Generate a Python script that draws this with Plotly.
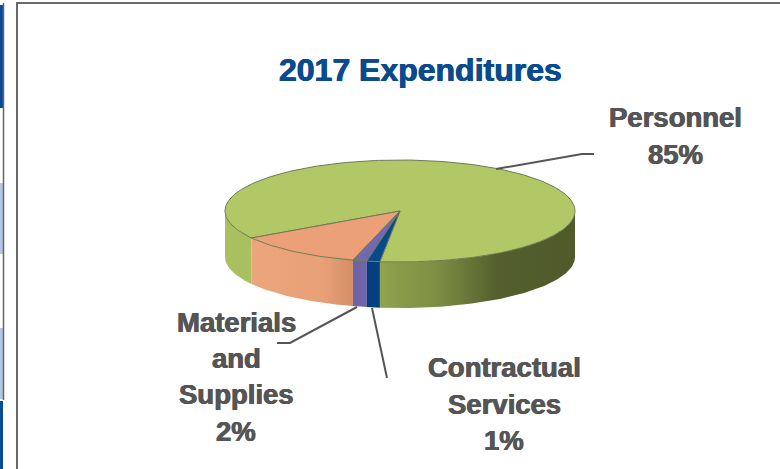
import math
import plotly.graph_objects as go

# --- data ---
slice_names = ["Personnel", "Other", "Materials and Supplies", "Contractual Services"]
slice_values = [85.7, 11.8, 1.3, 1.2]   # clockwise, starting at Personnel
title_text = "2017 Expenditures"
label_lines = [["Personnel", "85%"], ["Materials", "and", "Supplies", "2%"], ["Contractual", "Services", "1%"]]

# --- styles / layout ---
W, H = 780, 469
CX, CY, RX, RY, DEPTH = 400, 211, 175, 51, 46
END_ANGLE_FROM_BOTTOM = 6.6  # Personnel finishes here
top_colors = ["#b2c866", "#eba077", "#7468b0", "#064a8e"]
wall_styles = [
    None,
    [[0, "#eda67c"], [0.7, "#e8a077"], [1, "#d38f66"]],
    [[0, "#6f64a8"], [1, "#6f64a8"]],
    [[0, "#053f80"], [1, "#053f80"]],
]
right_green = [[0, "#8fa24d"], [0.3, "#7d8e44"], [0.6, "#545f2d"], [1, "#4f592a"]]
left_green = "#a9c060"
GREY = "#555555"
TITLE_BLUE = "#0b4a8c"
FONT = "Liberation Sans"
label_x = [675, 236, 504]
label_y = [[117, 154], [322, 358, 394, 431], [367, 404, 440]]
leaders = [
    [(496, 169), (582, 154), (594, 154)],
    [(357, 307), (290, 343), (277, 343)],
    [(372, 308), (387, 378)],
]

fig = go.Figure()


def pt(theta, z=0):
    r = math.radians(theta)  # measured from the bottom, running clockwise on screen
    return CX - RX * math.sin(r), CY + RY * math.cos(r) + z


def arc(a, b):
    n = max(2, int(abs(b - a) / 1.0) + 1)
    return [a + (b - a) * i / n for i in range(n + 1)]


def wall(a, b, color=None, gradient=None):
    ts = arc(a, b)
    top = [pt(t) for t in ts]
    bot = [pt(t, DEPTH) for t in reversed(ts)]
    pts = top + bot + [top[0]]
    kw = dict(fillcolor=color) if color else dict(fillgradient=dict(type="horizontal", colorscale=gradient))
    fig.add_trace(go.Scatter(x=[p[0] for p in pts], y=[p[1] for p in pts], mode="lines", fill="toself",
                             line=dict(width=0), hoverinfo="skip", showlegend=False, **kw))


# slice angles: Personnel runs round the back; the others follow back towards the bottom
total = sum(slice_values)
spans = [v / total * 360 for v in slice_values]
start = END_ANGLE_FROM_BOTTOM + spans[3] + spans[2] + spans[1]
bounds = [(start, 360 + END_ANGLE_FROM_BOTTOM)]
a = start
for s in spans[1:]:
    bounds.append((a - s, a))
    a -= s

# walls (front half only)
wall(start, 90, color=left_green)
wall(270, 360 + END_ANGLE_FROM_BOTTOM, gradient=right_green)
for (lo, hi), g in zip(bounds[1:], wall_styles[1:]):
    wall(lo, hi, gradient=g)

# top faces
for (lo, hi), c, name in zip(bounds, top_colors, slice_names):
    pts = [(CX, CY)] + [pt(t) for t in arc(lo, hi)] + [(CX, CY)]
    fig.add_trace(go.Scatter(x=[p[0] for p in pts], y=[p[1] for p in pts], mode="lines", fill="toself",
                             fillcolor=c, line=dict(color="#6f7a55", width=1), name=name,
                             hoverinfo="name", showlegend=False))

# leader lines
for seg in leaders:
    fig.add_trace(go.Scatter(x=[p[0] for p in seg], y=[p[1] for p in seg], mode="lines",
                             line=dict(color=GREY, width=2), hoverinfo="skip", showlegend=False))

shapes = [
    dict(type="rect", x0=17, y0=3, x1=W + 5, y1=H + 5, line=dict(color="#6a6a6a", width=2), fillcolor="rgba(0,0,0,0)"),
]
# strip of the neighbouring table on the far left
for y0, y1, c in [(5, 108, "#0b4a94"), (110, 181, "#ffffff"), (183, 254, "#b4c6e4"), (256, 326, "#ffffff"),
                  (328, 399, "#b4c6e4"), (401, 469, "#0b4a94")]:
    shapes.append(dict(type="rect", x0=0, x1=3, y0=y0, y1=y1, fillcolor=c, line=dict(width=0)))
shapes.append(dict(type="line", x0=3.5, x1=3.5, y0=3, y1=400, line=dict(color="#666666", width=1.5)))

annotations = [dict(x=420, y=70, text=title_text, showarrow=False, xref="x", yref="y",
                    font=dict(family=FONT, size=32, color=TITLE_BLUE, weight="bold",
                              shadow=f"0.5px 0 0.5px {TITLE_BLUE}, -0.5px 0 0.5px {TITLE_BLUE}"))]
for lines, lx, ys in zip(label_lines, label_x, label_y):
    for t, ly in zip(lines, ys):
        annotations.append(dict(x=lx, y=ly, text=t, showarrow=False, xref="x", yref="y",
                                font=dict(family=FONT, size=27.5, color=GREY, weight="bold",
                                          shadow=f"0.5px 0 0.5px {GREY}, -0.5px 0 0.5px {GREY}")))

fig.update_layout(
    width=W, height=H, margin=dict(l=0, r=0, t=0, b=0), paper_bgcolor="white", plot_bgcolor="white",
    xaxis=dict(range=[0, W], visible=False, fixedrange=True),
    yaxis=dict(range=[H, 0], visible=False, fixedrange=True),
    shapes=shapes, annotations=annotations,
)
fig.write_html("out.html", config=dict(displayModeBar=False),
               post_script="document.body.style.margin='0';document.documentElement.style.overflow='hidden';")
